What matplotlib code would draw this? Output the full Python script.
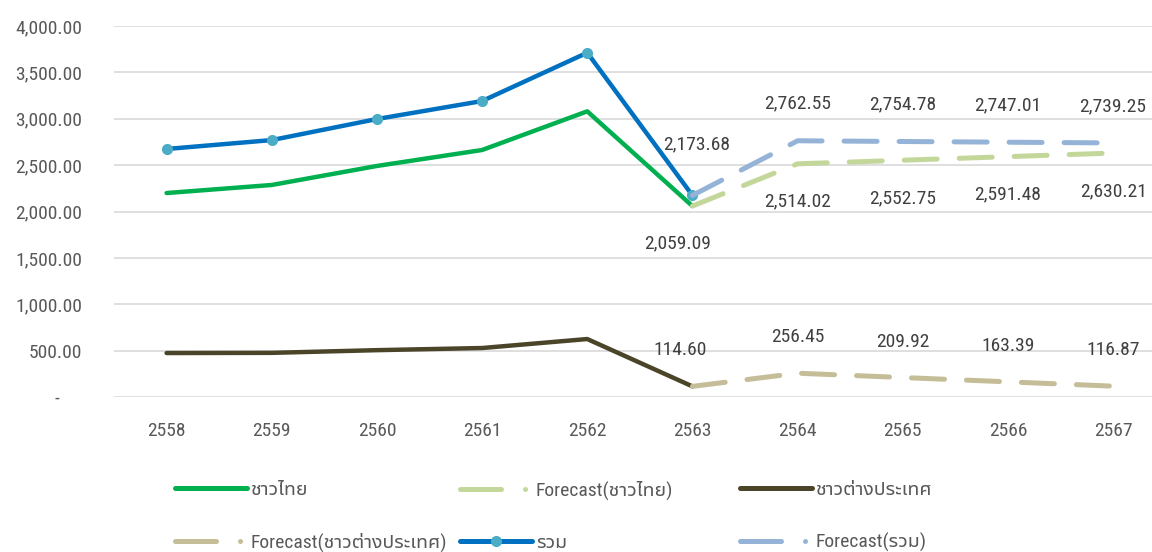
import numpy as np
import matplotlib
matplotlib.use("Agg")
import matplotlib.pyplot as plt
from matplotlib.lines import Line2D

years = ['2558', '2559', '2560', '2561', '2562', '2563', '2564', '2565', '2566', '2567']
thai = [2199, 2286, 2491, 2663, 3080, 2059.09]
thai_fc = [2059.09, 2514.02, 2552.75, 2591.48, 2630.21]
foreign = [474, 476, 505, 528, 625, 114.60]
foreign_fc = [114.60, 256.45, 209.92, 163.39, 116.87]
total = [2674, 2770, 2997, 3191, 3712, 2173.68]
total_fc = [2173.68, 2762.55, 2754.78, 2747.01, 2739.25]

names = ['ชาวไทย', 'Forecast(ชาวไทย)', 'ชาวต่างประเทศ', 'Forecast(ชาวต่างประเทศ)', 'รวม', 'Forecast(รวม)']
colors = ['#00B050', '#C4D79B', '#4A4529', '#C4BD97', '#0070C0', '#95B3D7']

plt.rcParams['font.family'] = ['Roboto Condensed', 'Noto Sans Thai UI', 'DejaVu Sans']

fig = plt.figure(figsize=(11.52, 5.52), dpi=100)
ax = fig.add_axes([114/1152, 155/552, 1038/1152, 371/552])

x = np.arange(len(years))
xa = x[:6]
xf = x[5:]
dash = (0, (6.6, 4.4))

ax.plot(xa, thai, color=colors[0], lw=3.2, solid_capstyle='round', solid_joinstyle='round', zorder=3)
ax.plot(xf, thai_fc, color=colors[1], lw=3.6, ls=dash, dash_capstyle='round', zorder=3)
ax.plot(xa, foreign, color=colors[2], lw=3.2, solid_capstyle='round', solid_joinstyle='round', zorder=3)
ax.plot(xf, foreign_fc, color=colors[3], lw=3.6, ls=dash, dash_capstyle='round', zorder=3)
ax.plot(xa, total, color=colors[4], lw=3.2, marker='o', ms=7, mfc='#4BACC6', mec='#4BACC6',
        solid_capstyle='round', solid_joinstyle='round', zorder=3)
ax.plot(xf, total_fc, color=colors[5], lw=3.6, ls=dash, dash_capstyle='round', zorder=3)

lc = '#404040'
fs = 14

def label(xv, yv, dx, dy):
    ax.annotate(f'{yv:,.2f}', (xv, yv), xytext=(dx, dy), textcoords='offset pixels',
                ha='center', va='center', color=lc, fontsize=fs)

label(xf[0], total_fc[0], 4, 51)
label(xf[0], thai_fc[0], -15, -37)
label(xf[0], foreign_fc[0], -12, 36)
for i in range(1, 5):
    label(xf[i], total_fc[i], 0, 37)
    label(xf[i], thai_fc[i], 0, -38)
    label(xf[i], foreign_fc[i], 0, 36)

ax.set_xlim(-0.5, 9.37)
ax.set_ylim(0, 4000)
ax.set_xticks(x)
ax.set_xticklabels(years)
yt = np.arange(0, 4001, 500)
ax.set_yticks(yt)
ax.set_yticklabels(['-     ' if v == 0 else f'{v:,.2f}' for v in yt])
ax.tick_params(length=0, labelsize=fs, labelcolor='#595959')
ax.tick_params(axis='y', pad=23)
ax.tick_params(axis='x', pad=18)
ax.grid(axis='y', color='#D9D9D9', lw=1.2)
ax.set_axisbelow(True)
for s in ax.spines.values():
    s.set_visible(False)

# legend handles, Excel style: dash + dot for forecasts
leg_dash = (0, (8.2, 4.8, 0.01, 20))
handles = []
for i, c in enumerate(colors):
    if i % 2 == 1:
        handles.append(Line2D([], [], color=c, lw=3.6, ls=leg_dash, dash_capstyle='round'))
    elif i == 4:
        handles.append(Line2D([], [], color=c, lw=3.6, marker='o', ms=7, mfc='#4BACC6', mec='#4BACC6',
                              solid_capstyle='round'))
    else:
        handles.append(Line2D([], [], color=c, lw=3.6, solid_capstyle='round'))

# three legend columns, filled row by row
col_x = [175, 460, 740]
for k in range(3):
    idx = [k, k + 3]
    fig.legend([handles[j] for j in idx], [names[j] for j in idx], loc='upper left',
               bbox_to_anchor=(col_x[k]/1152, 1 - 481/552), frameon=False, fontsize=fs,
               labelcolor='#595959', handlelength=3.7, handletextpad=0.2, labelspacing=1.75,
               borderpad=0, borderaxespad=0)

fig.savefig('out.png', dpi=100)
